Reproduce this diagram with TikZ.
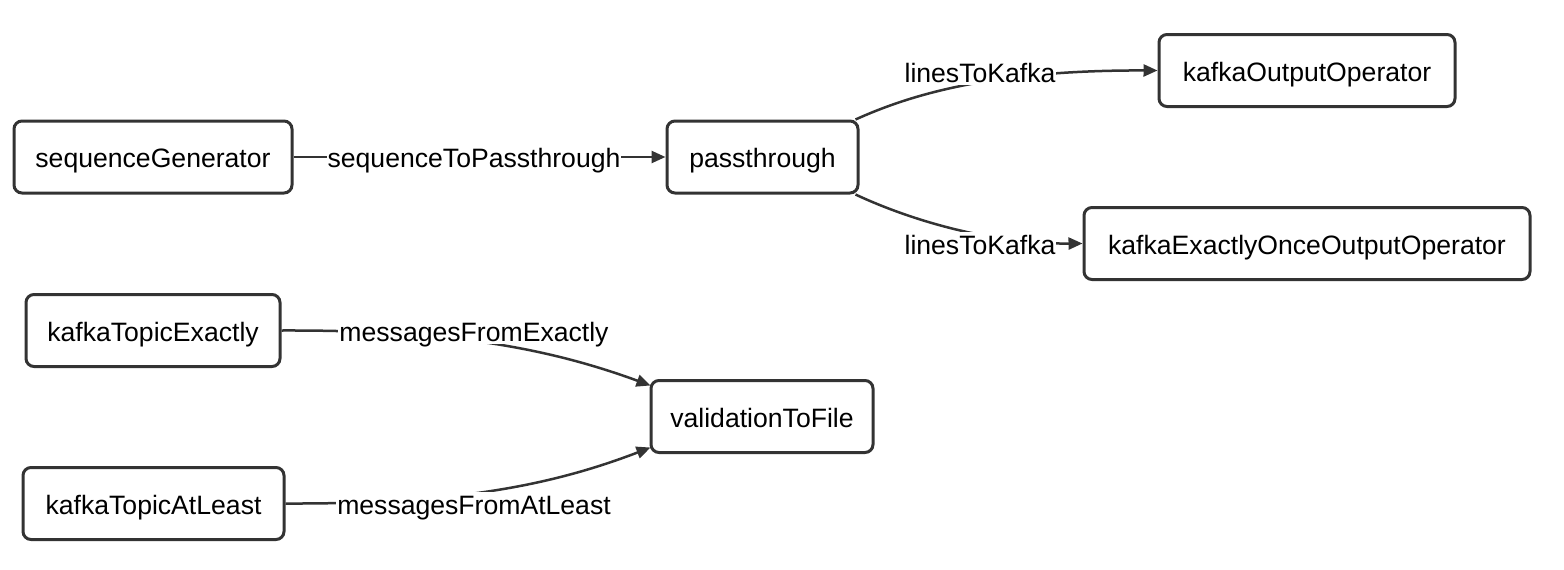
\documentclass[tikz,border=0pt]{standalone}
\usepackage{fontspec}
\setmainfont{Liberation Sans}
\usetikzlibrary{arrows.meta}
\definecolor{ink}{HTML}{333333}
\begin{document}
\begin{tikzpicture}[x=1pt,y=-1pt,
  txt/.style={font=\fontsize{26.6}{30}\selectfont, text=black, text height=23pt, text depth=2pt},
  box/.style={txt, draw=ink, line width=3pt, rounded corners=8pt, fill=white,
    inner sep=0pt, minimum height=72pt},
  lbl/.style={txt, fill=white, inner xsep=1pt, inner ysep=0pt},
  edge/.style={draw=ink, line width=2.5pt, -{Triangle[length=14pt,width=12pt]}}]
\useasboundingbox (0,0) rectangle (1564,570);
% nodes
\node[box, minimum width=278pt] (sg)  at (153,157)    {sequenceGenerator};
\node[box, minimum width=191pt] (pt)  at (762.5,157)  {passthrough};
\node[box, minimum width=296pt] (koo) at (1307,70.5)  {kafkaOutputOperator};
\node[box, minimum width=446pt] (keo) at (1307,243.5) {kafkaExactlyOnceOutputOperator};
\node[box, minimum width=254pt] (kte) at (153,330.5)  {kafkaTopicExactly};
\node[box, minimum width=222pt] (vtf) at (762,416.5)  {validationToFile};
\node[box, minimum width=261pt] (kta) at (153.5,503.5) {kafkaTopicAtLeast};
% edges
\draw[edge] (sg) -- (pt);
\draw[edge] ([xshift=-4pt]pt.north east) .. controls (910,95) and (990,70) .. (koo.west);
\draw[edge] ([xshift=-4pt]pt.south east) .. controls (910,220) and (990,244) .. (keo.west);
\draw[edge] (kte.east) .. controls (440,330) and (540,345) .. ([xshift=1pt,yshift=31pt]vtf.west);
\draw[edge] (kta.east) .. controls (440,504) and (540,490) .. ([xshift=1pt,yshift=-31pt]vtf.west);
% edge labels
\node[lbl] (l1) at (474,157) {sequenceToPassthrough};
\node[lbl] (l2) at (980,72)  {linesToKafka};
\node[lbl] (l3) at (980,244) {linesToKafka};
\node[lbl] (l4) at (474,331) {messagesFromExactly};
\node[lbl] (l5) at (474,504) {messagesFromAtLeast};
\end{tikzpicture}
\end{document}
